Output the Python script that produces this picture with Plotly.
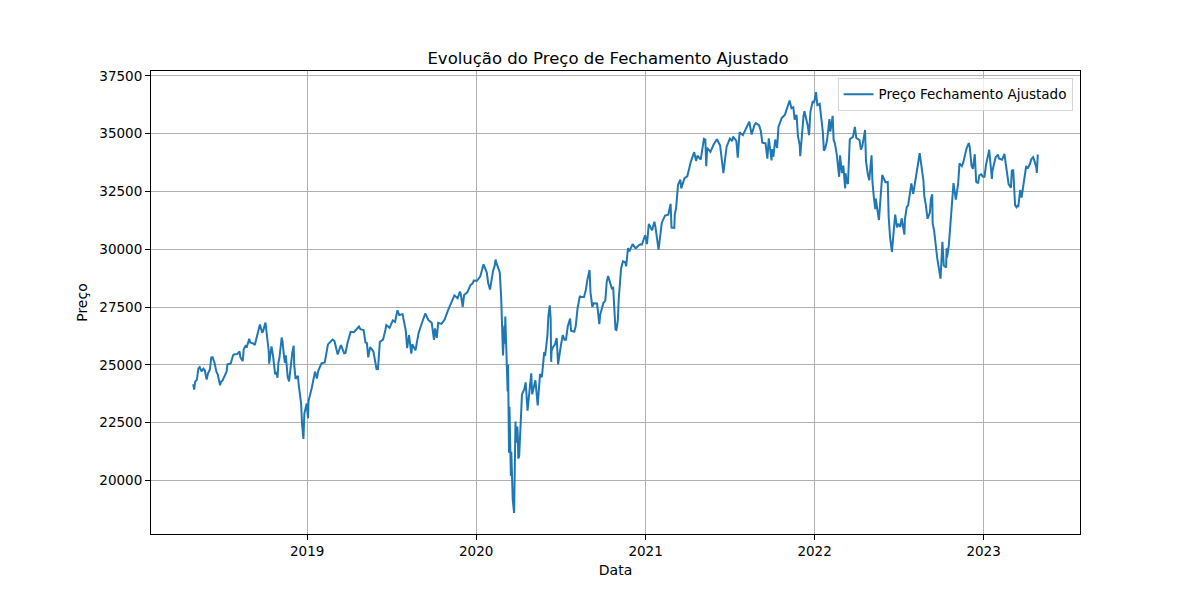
import pandas as pd
import plotly.graph_objects as go

# Preço de fechamento ajustado: fechamentos semanais
datas = [
    "2018-04-30", "2018-05-02", "2018-05-04", "2018-05-11", "2018-05-14", "2018-05-18", "2018-05-25", "2018-05-29",
    "2018-06-01", "2018-06-08", "2018-06-11", "2018-06-15", "2018-06-22", "2018-06-27", "2018-06-29", "2018-07-06",
    "2018-07-13", "2018-07-20", "2018-07-27", "2018-08-03", "2018-08-10", "2018-08-15", "2018-08-17", "2018-08-24",
    "2018-08-31", "2018-09-07", "2018-09-14", "2018-09-21", "2018-09-28", "2018-10-03", "2018-10-05", "2018-10-11",
    "2018-10-16", "2018-10-19", "2018-10-24", "2018-10-26", "2018-10-29", "2018-11-02", "2018-11-07", "2018-11-09",
    "2018-11-12", "2018-11-16", "2018-11-20", "2018-11-23", "2018-11-30", "2018-12-03", "2018-12-07", "2018-12-12",
    "2018-12-14", "2018-12-19", "2018-12-21", "2018-12-24", "2018-12-26", "2018-12-31",
    "2019-01-03", "2019-01-04", "2019-01-11", "2019-01-18", "2019-01-25", "2019-02-01", "2019-02-08", "2019-02-15",
    "2019-02-22", "2019-03-01", "2019-03-08", "2019-03-15", "2019-03-22", "2019-03-29", "2019-04-05", "2019-04-12",
    "2019-04-23", "2019-04-26", "2019-05-03", "2019-05-10", "2019-05-13", "2019-05-17", "2019-05-24", "2019-05-31",
    "2019-06-07", "2019-06-14", "2019-06-21", "2019-06-28", "2019-07-05", "2019-07-15", "2019-07-19", "2019-07-26",
    "2019-08-02", "2019-08-05", "2019-08-09", "2019-08-14", "2019-08-16", "2019-08-23", "2019-08-30", "2019-09-06",
    "2019-09-13", "2019-09-20", "2019-09-27", "2019-10-02", "2019-10-04", "2019-10-11", "2019-10-18", "2019-10-25",
    "2019-11-01", "2019-11-08", "2019-11-15", "2019-11-22", "2019-11-29", "2019-12-03", "2019-12-06", "2019-12-13",
    "2019-12-20", "2019-12-27",
    "2020-01-03", "2020-01-10", "2020-01-17", "2020-01-24", "2020-01-31", "2020-02-07", "2020-02-12", "2020-02-14",
    "2020-02-21", "2020-02-25", "2020-02-28", "2020-03-02", "2020-03-03", "2020-03-04", "2020-03-06", "2020-03-09",
    "2020-03-10", "2020-03-12", "2020-03-13", "2020-03-16", "2020-03-17", "2020-03-18", "2020-03-20", "2020-03-23",
    "2020-03-26", "2020-03-27", "2020-03-30", "2020-04-01", "2020-04-03", "2020-04-06", "2020-04-09", "2020-04-14",
    "2020-04-17", "2020-04-21", "2020-04-24", "2020-04-29", "2020-05-01", "2020-05-08", "2020-05-13", "2020-05-15",
    "2020-05-22", "2020-05-29", "2020-06-05", "2020-06-08", "2020-06-11", "2020-06-12", "2020-06-19", "2020-06-26",
    "2020-07-02", "2020-07-10", "2020-07-17", "2020-07-24", "2020-07-31", "2020-08-07", "2020-08-14", "2020-08-21",
    "2020-08-28", "2020-09-02", "2020-09-04", "2020-09-11", "2020-09-18", "2020-09-23", "2020-09-25", "2020-10-02",
    "2020-10-09", "2020-10-12", "2020-10-16", "2020-10-23", "2020-10-28", "2020-10-30", "2020-11-06", "2020-11-09",
    "2020-11-13", "2020-11-20", "2020-11-24", "2020-11-27", "2020-12-04", "2020-12-11", "2020-12-18", "2020-12-24",
    "2020-12-31",
    "2021-01-08", "2021-01-15", "2021-01-22", "2021-01-29", "2021-02-05", "2021-02-12", "2021-02-19", "2021-02-24",
    "2021-02-26", "2021-03-05", "2021-03-12", "2021-03-17", "2021-03-19", "2021-03-26", "2021-04-01", "2021-04-09",
    "2021-04-16", "2021-04-23", "2021-04-30", "2021-05-07", "2021-05-12", "2021-05-14", "2021-05-21", "2021-05-28",
    "2021-06-04", "2021-06-11", "2021-06-18", "2021-06-25", "2021-07-02", "2021-07-09", "2021-07-16", "2021-07-19",
    "2021-07-23", "2021-07-30", "2021-08-06", "2021-08-13", "2021-08-20", "2021-08-27", "2021-09-03", "2021-09-10",
    "2021-09-17", "2021-09-20", "2021-09-24", "2021-09-30", "2021-10-01", "2021-10-08", "2021-10-15", "2021-10-22",
    "2021-10-29", "2021-11-05", "2021-11-08", "2021-11-12", "2021-11-19", "2021-11-26", "2021-11-30", "2021-12-03",
    "2021-12-10", "2021-12-17", "2021-12-20", "2021-12-23", "2021-12-31",
    "2022-01-04", "2022-01-07", "2022-01-14", "2022-01-21", "2022-01-24", "2022-01-28", "2022-02-04", "2022-02-11",
    "2022-02-18", "2022-02-23", "2022-02-25", "2022-03-04", "2022-03-08", "2022-03-11", "2022-03-18", "2022-03-25",
    "2022-03-29", "2022-04-01", "2022-04-08", "2022-04-14", "2022-04-20", "2022-04-22", "2022-04-29", "2022-05-04",
    "2022-05-06", "2022-05-12", "2022-05-13", "2022-05-20", "2022-05-27", "2022-06-03", "2022-06-10", "2022-06-16",
    "2022-06-17", "2022-06-24", "2022-07-01", "2022-07-08", "2022-07-15", "2022-07-22", "2022-07-29", "2022-08-05",
    "2022-08-12", "2022-08-16", "2022-08-19", "2022-08-26", "2022-09-02", "2022-09-09", "2022-09-13", "2022-09-16",
    "2022-09-23", "2022-09-30", "2022-10-04", "2022-10-07", "2022-10-12", "2022-10-14", "2022-10-21", "2022-10-28",
    "2022-11-04", "2022-11-10", "2022-11-18", "2022-11-25", "2022-11-30", "2022-12-02", "2022-12-09", "2022-12-13",
    "2022-12-16", "2022-12-23", "2022-12-30",
    "2023-01-06", "2023-01-13", "2023-01-19", "2023-01-20", "2023-01-27", "2023-02-03", "2023-02-10", "2023-02-17",
    "2023-02-24", "2023-03-03", "2023-03-08", "2023-03-10", "2023-03-15", "2023-03-17", "2023-03-24", "2023-03-31",
    "2023-04-06", "2023-04-14", "2023-04-18", "2023-04-21", "2023-04-25", "2023-04-28",
]

precos = [
    24163, 23925, 24263, 24831, 24899, 24715, 24753, 24362,
    24635, 25317, 25322, 25090, 24581, 24117, 24271, 24456,
    25019, 25058, 25451, 25463, 25313, 25162, 25669, 25790,
    25965, 25917, 26155, 26744, 26458, 26828, 26447, 25053,
    25798, 25444, 24584, 24688, 24443, 25270, 26180, 25989,
    25388, 25413, 24466, 24286, 25538, 25826, 24389, 24527,
    24100, 23324, 22445, 21792, 22878, 23327,
    22686, 23433, 23996, 24706, 24737, 25064, 25106, 25883,
    26031, 26026, 25450, 25849, 25502, 25929, 26425, 26412,
    26656, 26543, 26505, 25942, 25325, 25764, 25586, 24815,
    25984, 26090, 26719, 26600, 26922, 27359, 27154, 27192,
    26485, 25718, 26287, 25479, 25886, 25629, 26403, 26797,
    27220, 26935, 26820, 26079, 26573, 26817, 26770, 26958,
    27347, 27681, 28005, 27876, 28051, 27503, 28015, 28135,
    28455, 28645,
    28635, 28824, 29348, 28990, 28256, 29103, 29551, 29398,
    28992, 27081, 25409, 26703, 25917, 27091, 25865, 23851,
    25018, 21200, 23186, 20189, 21237, 19899, 19174, 18592,
    22552, 21637, 22327, 20944, 21053, 22680, 23719, 23950,
    24242, 23019, 23775, 24634, 23724, 24331, 23248, 23685,
    24465, 25383, 27111, 27572, 25128, 25605, 25871, 25016,
    25827, 26075, 26672, 26470, 26428, 27433, 27931, 27930,
    28654, 29100, 28133, 27666, 27657, 26763, 27174, 27683,
    28587, 28838, 28606, 28336, 26520, 26502, 28323, 29158,
    29480, 29263, 30046, 29910, 30218, 30046, 30179, 30200,
    30606,
    31098, 30814, 30997, 29983, 31148, 31458, 31494, 31962,
    30932, 31496, 32779, 33015, 32628, 33072, 33153, 33801,
    34200, 34043, 33875, 34778, 33587, 34382, 34208, 34529,
    34756, 34480, 33290, 34433, 34786, 34870, 34688, 33962,
    35062, 34935, 35209, 35515, 35120, 35455, 35369, 34608,
    34584, 33970, 34798, 33844, 34326, 34746, 35295, 35677,
    35820, 36328, 36432, 36100, 35602, 34899, 34484, 34580,
    35971, 35365, 34932, 35951, 36338,
    36799, 36231, 35911, 34265, 34364, 34725, 35089, 34738,
    34079, 33132, 34058, 33614, 32632, 32944, 34754, 34861,
    35294, 34818, 34721, 34451, 35160, 33811, 32977, 34061,
    32899, 31730, 32197, 31262, 33213, 32899, 31393, 29927,
    29889, 31501, 31097, 31338, 31289, 31899, 32845, 32803,
    33761, 34152, 33707, 32283, 31318, 32151, 31105, 30822,
    29590, 28726, 30316, 29297, 29210, 29635, 31083, 32862,
    32403, 33716, 33746, 34347, 34590, 34430, 33477, 34109,
    32921, 33204, 33147,
    33631, 34303, 33045, 33375, 33978, 33926, 33870, 33827,
    32817, 33391, 32798, 31910, 31875, 31862, 32238, 33274,
    33485, 33887, 33977, 33809, 33531, 34098,
]

# pontos intermediários (picos e vales diários visíveis no gráfico)
datas_extra = [
    "2018-05-08", "2018-05-22", "2018-06-05", "2018-06-13", "2018-06-19", "2018-07-02", "2018-07-11", "2018-07-25",
    "2018-08-08", "2018-08-21", "2018-08-29", "2018-09-10", "2018-09-26", "2018-10-10", "2018-10-31", "2018-11-14",
    "2018-11-28", "2018-12-04", "2018-12-17",
    "2019-01-22", "2019-02-25", "2019-03-07", "2019-03-25", "2019-05-07", "2019-06-03", "2019-06-19", "2019-07-10",
    "2019-08-12", "2019-09-12", "2019-10-08", "2019-11-27", "2019-12-24",
    "2020-01-27", "2020-02-04", "2020-02-10", "2020-02-24", "2020-02-27", "2020-03-11", "2020-03-24", "2020-03-31",
    "2020-04-08", "2020-05-18", "2020-05-27", "2020-06-03", "2020-06-10", "2020-06-15", "2020-06-23", "2020-07-06",
    "2020-07-13", "2020-07-22", "2020-08-03", "2020-08-12", "2020-08-25", "2020-09-08", "2020-09-21", "2020-10-06",
    "2020-10-20", "2020-11-02", "2020-11-04", "2020-11-18", "2020-12-09", "2020-12-21",
    "2021-01-04", "2021-01-20", "2021-01-27", "2021-02-10", "2021-03-04", "2021-03-08", "2021-04-20", "2021-05-10",
    "2021-06-08", "2021-06-21", "2021-07-07", "2021-08-18", "2021-08-24", "2021-09-07", "2021-09-21", "2021-09-28",
    "2021-10-04", "2021-10-12", "2021-11-16", "2021-11-23", "2021-12-01", "2021-12-08", "2021-12-28",
    "2022-01-12", "2022-01-19", "2022-02-02", "2022-02-09", "2022-02-14", "2022-03-01", "2022-03-09", "2022-03-14",
    "2022-04-11", "2022-04-26", "2022-05-09", "2022-05-18", "2022-06-08", "2022-06-13", "2022-06-28", "2022-07-05",
    "2022-07-14", "2022-07-19", "2022-08-02", "2022-08-24", "2022-08-29", "2022-09-07", "2022-09-12", "2022-09-27",
    "2022-10-13", "2022-10-18", "2022-11-02", "2022-11-07", "2022-11-15", "2022-12-06", "2022-12-20", "2022-12-27",
    "2023-01-03", "2023-01-12", "2023-01-24", "2023-02-01", "2023-02-15", "2023-02-21", "2023-03-01", "2023-03-06",
    "2023-03-13", "2023-03-21", "2023-04-03", "2023-04-11", "2023-04-26", "2023-04-27",
]

precos_extra = [
    24360, 24834, 24799, 25201, 24700, 24307, 24700, 25414,
    25583, 25822, 26124, 25857, 26385, 25599, 25116, 25080,
    25366, 25027, 23592,
    24404, 26091, 25473, 25516, 25965, 24820, 26504, 26860,
    25897, 27182, 26164, 28164, 28515,
    28535, 28808, 29277, 27961, 25767, 23553, 20705, 21917,
    23434, 24597, 25548, 26270, 26990, 25763, 26156, 26287,
    26086, 27005, 26664, 27976, 28249, 27500, 27147, 27773,
    28308, 26925, 27847, 29438, 30068, 30216,
    30224, 31188, 30303, 31437, 30924, 31802, 33821, 34743,
    34600, 33877, 34681, 34960, 35366, 35100, 33919, 34299,
    34002, 34378, 36142, 35813, 34022, 35754, 36398,
    36290, 35029, 35629, 35768, 34566, 33294, 33286, 32818,
    34308, 33240, 32245, 31490, 32910, 30516, 30946, 30967,
    30630, 31827, 32396, 32969, 31951, 31581, 32381, 29134,
    30038, 30186, 32148, 32827, 33593, 33596, 32850, 33241,
    33136, 34190, 33733, 34093, 34128, 33129, 32661, 33431,
    31819, 32561, 33601, 33684, 33302, 33826,
]

anos = ["2019", "2020", "2021", "2022", "2023"]
y_ticks = [20000, 22500, 25000, 27500, 30000, 32500, 35000, 37500]

df = pd.concat([
    pd.DataFrame({"Data": pd.to_datetime(datas), "Preco": precos}),
    pd.DataFrame({"Data": pd.to_datetime(datas_extra), "Preco": precos_extra}),
]).sort_values("Data").reset_index(drop=True)

# margens de 5% como no matplotlib
span = df["Data"].max() - df["Data"].min()
x_range = [df["Data"].min() - span * 0.05, df["Data"].max() + span * 0.05]
y_span = df["Preco"].max() - df["Preco"].min()
y_range = [df["Preco"].min() - y_span * 0.05, df["Preco"].max() + y_span * 0.05]

fig = go.Figure()
fig.add_trace(go.Scatter(x=df["Data"], y=df["Preco"], mode="lines", name="Preço Fechamento Ajustado",
                         line=dict(color="#1f77b4", width=2)))

axis_style = dict(showline=True, linecolor="black", linewidth=1, mirror=True, ticks="outside",
                  ticklen=5, tickcolor="black", showgrid=True, gridcolor="#b0b0b0", gridwidth=1,
                  zeroline=False, tickfont=dict(size=13.5, color="black"))

fig.update_layout(
    width=1200, height=600,
    margin=dict(l=143, r=128, t=63, b=74),
    paper_bgcolor="white", plot_bgcolor="white",
    font=dict(family="DejaVu Sans", color="black"),
    title=dict(text="Evolução do Preço de Fechamento Ajustado", x=0.5, xanchor="center",
               y=0.917, yanchor="middle", font=dict(size=16.5)),
    showlegend=True,
    legend=dict(x=0.992, y=0.985, xanchor="right", yanchor="top", bgcolor="rgba(255,255,255,0.8)",
                bordercolor="#d5d5d5", borderwidth=1, font=dict(size=13.5), itemwidth=30),
)
fig.update_xaxes(range=x_range, tickvals=pd.to_datetime([a + "-01-01" for a in anos]), ticktext=anos,
                 title=dict(text="Data", font=dict(size=14), standoff=6), **axis_style)
fig.update_yaxes(range=y_range, tickvals=y_ticks, ticktext=[str(v) for v in y_ticks],
                 title=dict(text="Preço", font=dict(size=14), standoff=8), **axis_style)

fig.write_html("out.html")
